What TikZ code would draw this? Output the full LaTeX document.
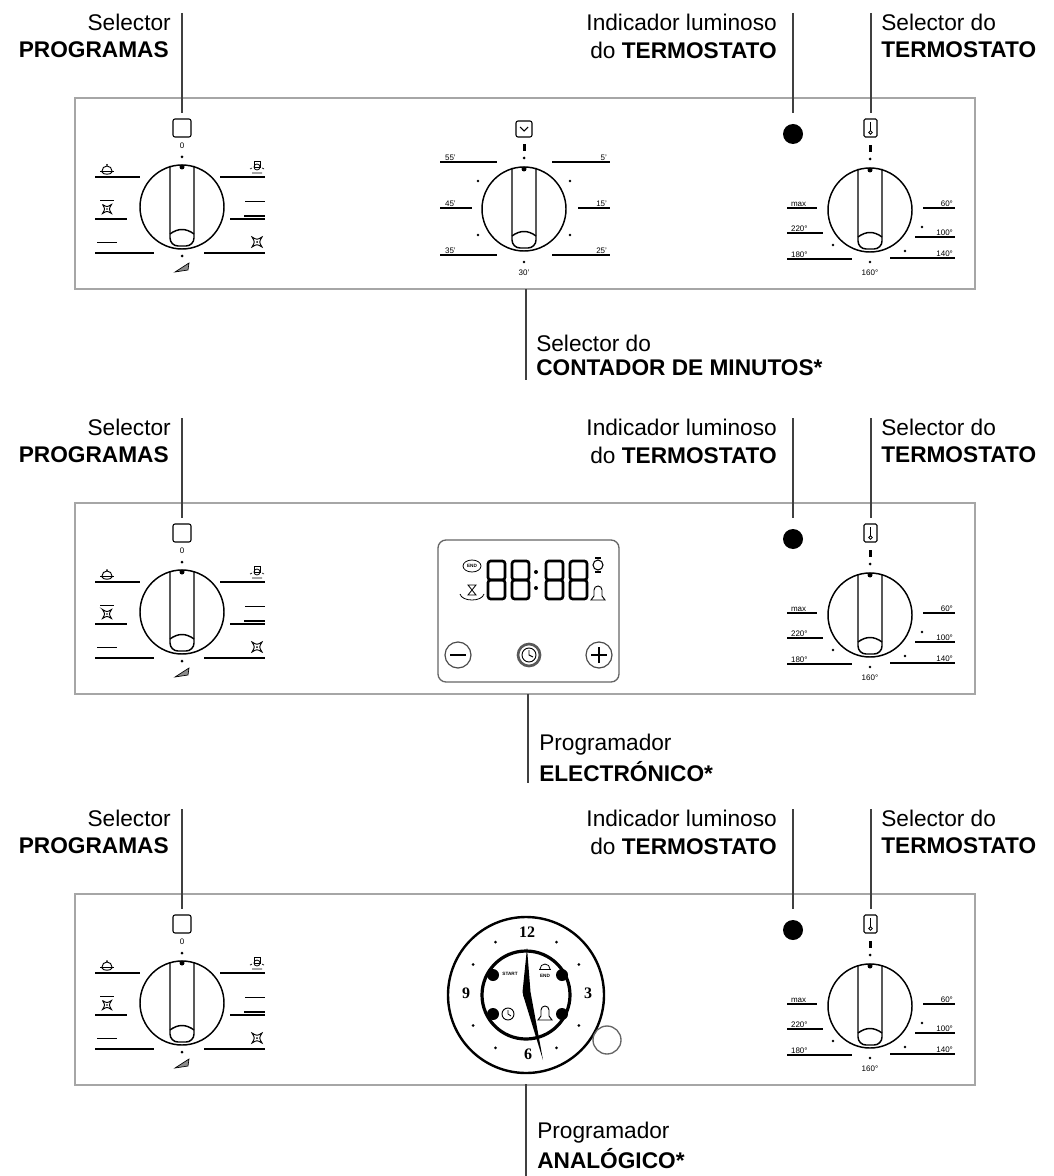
\documentclass[tikz,border=0pt]{standalone}
\usepackage{fontspec}
\setmainfont{Liberation Sans}
\newfontfamily\clockfont{Liberation Serif}
\begin{document}
\begin{tikzpicture}[x=0.75pt,y=-0.75pt,
  lab/.style={font=\fontsize{17}{20}\selectfont,inner sep=0},
  tiny/.style={font=\fontsize{6}{7}\selectfont,inner sep=0.6pt},
  panel/.style={draw=black!35,line width=2.2pt},
  leader/.style={draw=black!75,line width=1.3pt},
  kl/.style={line width=1.1pt},
  sl/.style={line width=0.8pt},
  knobbody/.pic={
    \draw[kl] (0,0) circle (42);
    \draw[kl,rounded corners=6] (-12,-41) -- (-12,39) -- (12,39) -- (12,-41);
    \draw[kl] (-12,27) .. controls (-4,21) and (4,21) .. (12,27);
    \fill (0,-40) circle (2.5);
  },
  fanicon/.pic={
    \draw[line width=0.7pt] (-5,-5) .. controls (0,-2) .. (5,-5) .. controls (2,0) .. (5,5) .. controls (0,2) .. (-5,5) .. controls (-2,0) .. cycle;
    \fill (0,0) circle (1);
  },
  progknob/.pic={
    \pic {knobbody};
    \draw[sl,rounded corners=1.5] (-9,-88) rectangle (9,-70);
    \node[tiny] at (0,-61) {0};
    \fill (0,-50) circle (1.5);
    \fill (0,49) circle (1.5);
    \filldraw[line width=0.5pt,fill=black!45] (-7,65) -- (7,56) -- (6,63) -- cycle;
    \draw[sl] (-87,-30) -- (-42,-30);
    \draw[sl] (-87,12) -- (-55,12);
    \draw[sl] (-87,46) -- (-28,46);
    \draw[sl] (38,-30) -- (83,-30);
    \draw[sl] (48,12) -- (83,12);
    \draw[sl] (22,46) -- (83,46);
    % pot
    \draw[line width=0.7pt] (-82,-36) -- (-68,-36);
    \draw[line width=0.7pt] (-80,-36) arc (180:360:5 and 5);
    \draw[line width=0.7pt] (-80,-36) -- (-80,-35) .. controls (-79,-32) and (-71,-32) .. (-70,-35) -- (-70,-36);
    \fill (-75,-42) circle (1);
    \draw[line width=0.7pt] (-82,-7) -- (-68,-7);
    \pic[scale=0.9] at (-75,2) {fanicon};
    \draw[line width=0.7pt] (-85,35) -- (-65,35);
    % lamp
    \draw[line width=0.6pt] (72,-46) rectangle (78,-40);
    \draw[line width=0.6pt] (75,-40) circle (3);
    \draw[line width=0.5pt] (68,-38) -- (70,-39) (82,-38) -- (80,-39) (70,-34) -- (80,-34);
    \draw[line width=0.7pt] (63,-6) -- (83,-6);
    \draw[line width=1pt] (62,9) -- (83,9);
    \pic at (75,35) {fanicon};
  },
  thermknob/.pic={
    \pic {knobbody};
    \draw[sl,rounded corners=1] (-6,-91) rectangle (7,-73);
    \draw[line width=0.6pt] (0,-88) -- (0,-79);
    \draw[line width=0.6pt] (0.5,-77.5) circle (1.8);
    \fill (-1.5,-65) rectangle (1.5,-58);
    \fill (0,-51) circle (1.5);
    \draw[sl] (-83,-2) -- (-53,-2);
    \draw[sl] (-83,23) -- (-47,23);
    \draw[sl] (-83,49) -- (-18,49);
    \draw[sl] (53,-2) -- (85,-2);
    \draw[sl] (45,27) -- (85,27);
    \draw[sl] (20,48) -- (85,48);
    \node[tiny,anchor=south west] at (-80,-2) {max};
    \node[tiny,anchor=south west] at (-80,23) {220°};
    \node[tiny,anchor=south west] at (-80,49) {180°};
    \node[tiny,anchor=south east] at (84,-2) {60°};
    \node[tiny,anchor=south east] at (84,27) {100°};
    \node[tiny,anchor=south east] at (84,48) {140°};
    \fill (-37,35) circle (1.3) (52,17) circle (1.3) (35,41) circle (1.3) (0,52) circle (1.3);
    \node[tiny] at (0,63) {160°};
  }
]
\useasboundingbox (0,0) rectangle (1053,1176);
\fill[white] (0,0) rectangle (1053,1176);

\foreach \dy/\nm in {0/a,405/b,796/c}{
  \begin{scope}[yshift=-0.75*\dy pt]
    \draw[panel] (75,98) rectangle (975,289);
    \pic at (182,207) {progknob};
    \pic at (870,210) {thermknob};
    \fill (793,134) circle (10);
    \node[lab,anchor=east] (sel\nm) at (171,22) {Selector};
    \node[lab,anchor=east,font=\fontsize{17}{20}\selectfont\bfseries] (prog\nm) at (169,50) {PROGRAMAS};
    \draw[leader] (182,13) -- (182,113);
    \node[lab,anchor=east] (ind\nm) at (777,22) {Indicador luminoso};
    \node[lab,anchor=east] (indb\nm) at (777,50) {do \textbf{TERMOSTATO}};
    \draw[leader] (793,13) -- (793,113);
    \node[lab,anchor=west] (st\nm) at (881,22) {Selector do};
    \node[lab,anchor=west,font=\fontsize{17}{20}\selectfont\bfseries] (stb\nm) at (881,50) {TERMOSTATO};
    \draw[leader] (871,13) -- (871,113);
  \end{scope}
}

% panel 1: minute timer
\begin{scope}[shift={(524,209)}]
  \pic {knobbody};
  \draw[sl,rounded corners=1.5] (-8,-88) rectangle (8,-72);
  \draw[line width=0.8pt] (-4,-82) -- (0,-78) -- (4,-82);
  \fill (-1.5,-65) rectangle (1.5,-58);
  \fill (0,-51) circle (1.5);
  \draw[sl] (-84,-47) -- (-27,-47);  \draw[sl] (28,-47) -- (86,-47);
  \draw[sl] (-84,-1) -- (-52,-1);    \draw[sl] (54,-1) -- (86,-1);
  \draw[sl] (-84,46) -- (-27,46);    \draw[sl] (28,46) -- (86,46);
  \node[tiny,anchor=south west] at (-80,-47) {55'};
  \node[tiny,anchor=south west] at (-80,-1) {45'};
  \node[tiny,anchor=south west] at (-80,46) {35'};
  \node[tiny,anchor=south east] at (84,-47) {5'};
  \node[tiny,anchor=south east] at (84,-1) {15'};
  \node[tiny,anchor=south east] at (84,46) {25'};
  \fill (-46,-28) circle (1.3) (46,-28) circle (1.3) (-46,26) circle (1.3) (46,26) circle (1.3) (0,53) circle (1.3);
  \node[tiny] at (0,64) {30'};
\end{scope}
\draw[leader] (526,289) -- (526,380);
\node[lab,anchor=west] (cnt1) at (536,343) {Selector do};
\node[lab,anchor=west,font=\fontsize{17}{20}\selectfont\bfseries] (cnt2) at (536,368) {CONTADOR DE MINUTOS*};

% panel 2: electronic programmer
\draw[line width=1pt,draw=black!60,rounded corners=6] (438,540) rectangle (619,682);
\foreach \x in {488,512,546,570}{
  \draw[line width=2pt,rounded corners=2] (\x,561) rectangle (\x+17,580);
  \draw[line width=2pt,rounded corners=2] (\x,580) rectangle (\x+17,599);
}
\fill (536,572) circle (2) (536,588) circle (2);
\draw[line width=0.6pt] (472,566) ellipse (9 and 6);
\node[font=\fontsize{3.5}{4}\selectfont\bfseries,inner sep=0] at (472,566) {END};
\draw[line width=0.6pt] (468,585) -- (476,585) -- (468,595) -- (476,595) -- cycle;
\draw[line width=0.6pt] (460,594) .. controls (462,602) and (482,602) .. (484,594);
\draw[line width=0.8pt] (598,565) circle (5);
\draw[line width=0.8pt] (595,558) -- (601,558) (595,572) -- (601,572);
\draw[line width=0.7pt] (591,600) -- (605,600) -- (602,596) -- (602,590) arc (0:-180:4) -- (594,596) -- cycle;
\draw[line width=0.9pt,draw=black!70] (458,655) circle (13);
\draw[line width=0.9pt] (450,655) -- (466,655);
\draw[line width=2pt,draw=black!65] (529,655) circle (11);
\draw[line width=0.7pt] (529,655) circle (7);
\draw[line width=0.7pt] (529,650) -- (529,655) -- (533,657);
\draw[line width=0.9pt,draw=black!70] (599,655) circle (13);
\draw[line width=0.9pt] (591,655) -- (607,655) (599,647) -- (599,663);
\draw[leader] (528,694) -- (528,783);
\node[lab,anchor=west] (el1) at (539,745) {Programador};
\node[lab,anchor=west,font=\fontsize{17}{20}\selectfont\bfseries] (el2) at (539,772) {ELECTRÓNICO*};

% panel 3: analogue programmer
\coordinate (C) at (526,995);
\draw[line width=1.8pt] (C) circle (78);
\draw[line width=2.4pt] (C) circle (44);
\foreach \a in {30,60,120,150,210,240,300,330}
  \fill (C) ++(\a:61) circle (1.5);
\node[font=\clockfont\fontsize{12}{12}\selectfont\bfseries,inner sep=0] at (527,932) {12};
\node[font=\clockfont\fontsize{12}{12}\selectfont\bfseries,inner sep=0] at (588,993) {3};
\node[font=\clockfont\fontsize{12}{12}\selectfont\bfseries,inner sep=0] at (528,1054) {6};
\node[font=\clockfont\fontsize{12}{12}\selectfont\bfseries,inner sep=0] at (466,993) {9};
\fill (493,975) circle (6) (562,975) circle (6) (493,1014) circle (6) (562,1014) circle (6);
\node[font=\fontsize{3.5}{4}\selectfont\bfseries,inner sep=0] at (510,974) {START};
\draw[line width=0.6pt] (539,969) -- (551,969);
\draw[line width=0.6pt] (540,969) arc (180:360:5 and 5);
\node[font=\fontsize{3.5}{4}\selectfont\bfseries,inner sep=0] at (545,976) {END};
\draw[line width=0.7pt] (508,1014) circle (6);
\draw[line width=0.6pt] (508,1010) -- (508,1014) -- (511,1016);
\draw[line width=0.7pt] (538,1020) -- (552,1020) -- (549,1016) -- (549,1010) arc (0:-180:4) -- (541,1016) -- cycle;
\fill (527,948) -- (530.5,992) -- (543,1060) -- (524,998) -- (522.5,992) -- cycle;
\fill (527,995) circle (4);
\draw[line width=1pt,draw=black!60] (607,1040) circle (14);
\draw[leader] (526,1084) -- (526,1176);
\node[lab,anchor=west] (an1) at (537,1133) {Programador};
\node[lab,anchor=west,font=\fontsize{17}{20}\selectfont\bfseries] (an2) at (537,1159) {ANALÓGICO*};
\end{tikzpicture}
\end{document}
